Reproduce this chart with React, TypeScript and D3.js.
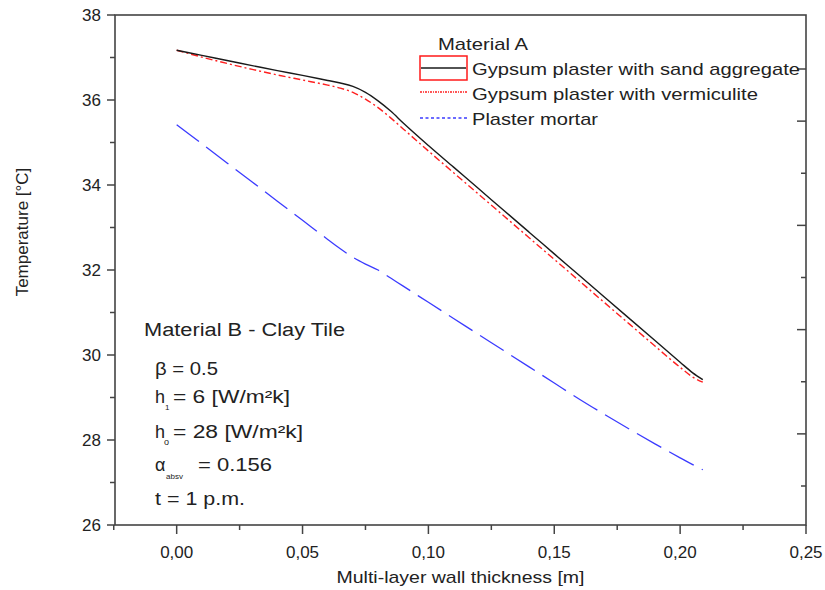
import React from "react";
import * as d3 from "d3";

// wall thickness [m] and temperatures [°C]
const thickness = [0, 0.01, 0.02, 0.03, 0.04, 0.05, 0.06, 0.065, 0.07, 0.075, 0.08, 0.085, 0.09, 0.1, 0.11, 0.12, 0.13, 0.14, 0.15, 0.16, 0.17, 0.18, 0.19, 0.2, 0.205, 0.209];
const sandAggregate = [37.17, 37.05, 36.93, 36.81, 36.69, 36.58, 36.46, 36.4, 36.32, 36.18, 35.98, 35.74, 35.46, 34.93, 34.42, 33.91, 33.4, 32.89, 32.38, 31.87, 31.36, 30.85, 30.34, 29.83, 29.58, 29.42];
const vermiculite = [37.17, 37.01, 36.86, 36.72, 36.59, 36.47, 36.35, 36.28, 36.18, 36.02, 35.82, 35.58, 35.32, 34.8, 34.29, 33.78, 33.27, 32.76, 32.25, 31.74, 31.23, 30.72, 30.21, 29.71, 29.48, 29.36];
const plasterMortar = [35.42, 34.97, 34.52, 34.07, 33.62, 33.17, 32.72, 32.5, 32.3, 32.14, 32.0, 31.81, 31.62, 31.24, 30.86, 30.48, 30.1, 29.72, 29.34, 28.96, 28.6, 28.25, 27.91, 27.58, 27.42, 27.3];

const xTicks = [0, 0.05, 0.1, 0.15, 0.2, 0.25];
const xMinorTicks = [-0.025, 0.025, 0.075, 0.125, 0.175, 0.225];
const yTicks = [26, 28, 30, 32, 34, 36, 38];
const yMinorTicks = [27, 29, 31, 33, 35, 37];
const rightTicks = [0, 1, 2, 3, 4, 5, 6, 7, 8];
const rightLong = [0, 1, 3, 5, 7];

const legendTitle = "Material A";
const seriesNames = ["Gypsum plaster with sand aggregate", "Gypsum plaster with vermiculite", "Plaster mortar"];

const W = 825;
const H = 590;
const left = 115, right = 806, top = 15, bottom = 525;
const font = "'Liberation Sans', Arial, sans-serif";
const ink = "#222";

export default function App() {
  const x = d3.scaleLinear().domain([-0.0245, 0.25]).range([left, right]);
  const y = d3.scaleLinear().domain([26, 38]).range([bottom, top]);
  const yRight = d3.scaleLinear().domain([0, 8]).range([69, 486]);

  const line = (vals: number[]) =>
    d3.line<number>()
      .x((_, i) => x(thickness[i]))
      .y((v) => y(v))
      .curve(d3.curveMonotoneX)(vals) || "";

  const fmt = (v: number) => v.toFixed(2).replace(".", ",");

  return (
    <div style={{ position: "absolute", left: 0, top: 0 }}>
      <svg width={W} height={H} style={{ display: "block", background: "#fff" }} fontFamily={font}>
        {/* curves */}
        <path d={line(plasterMortar)} fill="none" stroke="#3b3bff" strokeWidth={1.3} strokeDasharray="28,9" />
        <path d={line(vermiculite)} fill="none" stroke="#ff2020" strokeWidth={1.4} strokeDasharray="7,3,2,3" />
        <path d={line(sandAggregate)} fill="none" stroke="#1a1a1a" strokeWidth={1.4} />

        {/* frame */}
        <rect x={left} y={top} width={right - left} height={bottom - top} fill="none" stroke="#444" strokeWidth={1.6} />

        {/* left axis ticks */}
        {yTicks.map((t) => (
          <g key={"yt" + t}>
            <line x1={left - 8} x2={left} y1={y(t)} y2={y(t)} stroke="#444" strokeWidth={1.5} />
            <text x={101} y={y(t) + 6} textAnchor="end" fontSize={17} fill={ink}>{t}</text>
          </g>
        ))}
        {yMinorTicks.map((t) => (
          <line key={"ym" + t} x1={left - 5} x2={left} y1={y(t)} y2={y(t)} stroke="#444" strokeWidth={1.5} />
        ))}

        {/* right axis ticks */}
        {rightTicks.map((t) => (
          <line key={"rt" + t} x1={right - (rightLong.includes(t) ? 9 : 5)} x2={right} y1={yRight(t)} y2={yRight(t)} stroke="#444" strokeWidth={1.5} />
        ))}

        {/* bottom axis ticks */}
        {xTicks.map((t) => (
          <g key={"xt" + t}>
            <line x1={x(t)} x2={x(t)} y1={bottom} y2={bottom + 9} stroke="#444" strokeWidth={1.5} />
            <text x={x(t)} y={bottom + 33} textAnchor="middle" fontSize={17} fill={ink}>{fmt(t)}</text>
          </g>
        ))}
        {xMinorTicks.map((t) => (
          <line key={"xm" + t} x1={x(t)} x2={x(t)} y1={bottom} y2={bottom + 5} stroke="#444" strokeWidth={1.5} />
        ))}

        {/* axis titles */}
        <text x={(left + right) / 2} y={583} textAnchor="middle" fontSize={17} fill={ink} textLength={248} lengthAdjust="spacingAndGlyphs">
          Multi-layer wall thickness [m]
        </text>
        <text transform="translate(28,232) rotate(-90)" textAnchor="middle" fontSize={17} fill={ink}>
          Temperature [°C]
        </text>

        {/* legend */}
        <g fontSize={17} fill={ink}>
          <text x={438} y={50} textLength={90} lengthAdjust="spacingAndGlyphs">{legendTitle}</text>
          <rect x={420} y={56} width={47} height={24} fill="none" stroke="#ff1a1a" strokeWidth={1.5} />
          <line x1={421} x2={466} y1={68} y2={68} stroke="#1a1a1a" strokeWidth={1.5} />
          <text x={472} y={75} textLength={328} lengthAdjust="spacingAndGlyphs">{seriesNames[0]}</text>
          <line x1={420} x2={467} y1={92} y2={92} stroke="#ff2020" strokeWidth={1.3} strokeDasharray="2,1,1,1" />
          <text x={472} y={100} textLength={286} lengthAdjust="spacingAndGlyphs">{seriesNames[1]}</text>
          <line x1={420} x2={467} y1={118} y2={118} stroke="#3b3bff" strokeWidth={1.3} strokeDasharray="3,2.5" />
          <text x={472} y={125} textLength={126} lengthAdjust="spacingAndGlyphs">{seriesNames[2]}</text>
        </g>

        {/* parameters block */}
        <g fontSize={18} fill={ink}>
          <text x={144} y={336} textLength={201} lengthAdjust="spacingAndGlyphs">Material B - Clay Tile</text>
          <text x={155} y={375} textLength={63} lengthAdjust="spacingAndGlyphs">β = 0.5</text>
          <text x={155} y={403}>h</text>
          <text x={165} y={410} fontSize={8}>1</text>
          <text x={173} y={403} textLength={117} lengthAdjust="spacingAndGlyphs">= 6 [W/m²k]</text>
          <text x={155} y={438}>h</text>
          <text x={164} y={445} fontSize={9}>o</text>
          <text x={173} y={438} textLength={130} lengthAdjust="spacingAndGlyphs">= 28 [W/m²k]</text>
          <text x={155} y={471}>α</text>
          <text x={166} y={479} fontSize={8}>absv</text>
          <text x={198} y={471} textLength={74} lengthAdjust="spacingAndGlyphs">= 0.156</text>
          <text x={155} y={505} textLength={90} lengthAdjust="spacingAndGlyphs">t = 1 p.m.</text>
        </g>
      </svg>
    </div>
  );
}
